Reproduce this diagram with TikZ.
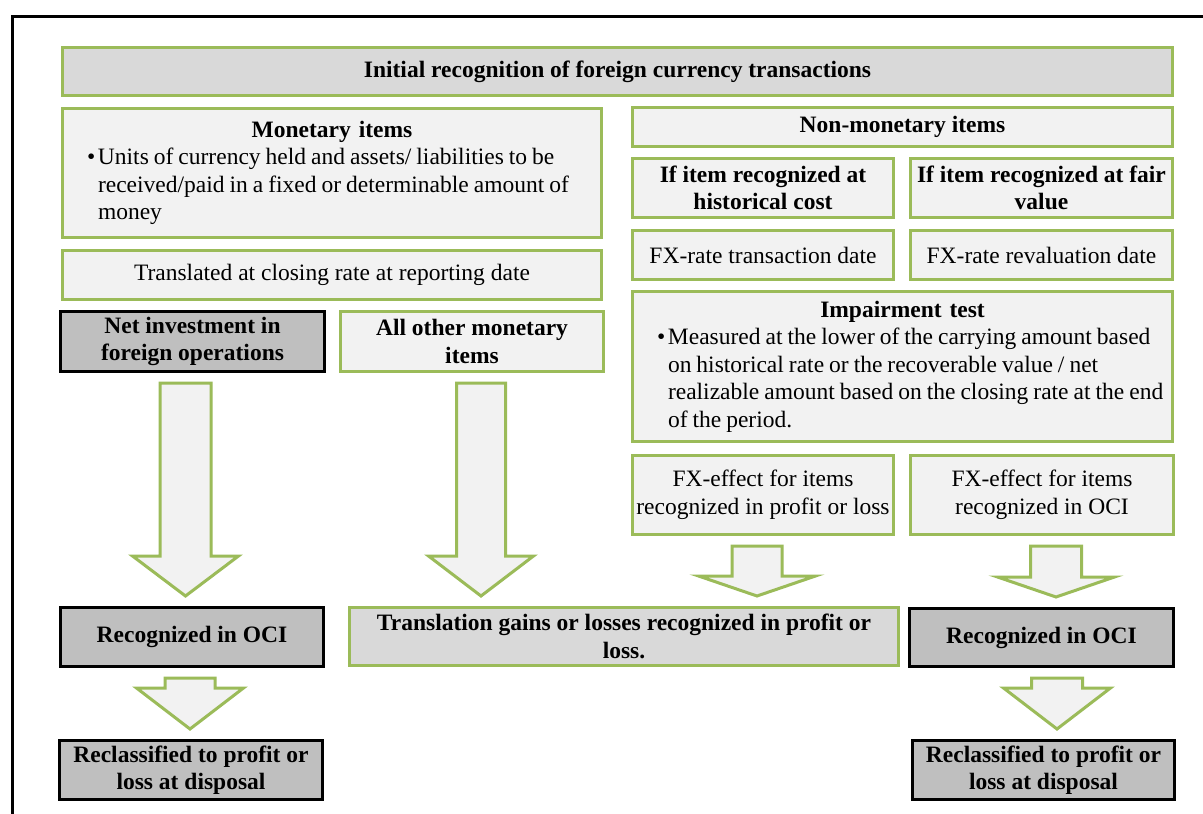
\documentclass[tikz,border=0pt]{standalone}
\usepackage{fontspec}
\setmainfont{Liberation Serif}
\usetikzlibrary{calc}

\definecolor{leafgreen}{HTML}{9BBB59}
\definecolor{paleGray}{HTML}{F2F2F2}
\definecolor{midGray}{HTML}{D9D9D9}
\definecolor{deepGray}{HTML}{BFBFBF}

% box from outer edges (x1,y1)-(x2,y2), y measured downwards; lines are broken by hand
\newcommand\bx[7]{%
  \pgfmathsetmacro\bxmw{#4-#2-3}%
  \pgfmathsetmacro\bxmh{#5-#3-3}%
  \pgfmathsetmacro\bxcx{(#2+#4)/2}%
  \pgfmathsetmacro\bxcy{(#3+#5)/2}%
  \node[minimum width=\bxmw pt, minimum height=\bxmh pt, #6]
    (#1) at (\bxcx,\bxcy) {#7};}

% hollow block arrow between two nodes: centre x, half shaft, half head, head length
\newcommand\blockarrow[6]{%
  \draw[arrowline] let \p1=(#1.south), \p2=(#2.north) in
    (#3pt-#4pt,\y1-10pt) -- (#3pt+#4pt,\y1-10pt) -- (#3pt+#4pt,\y2+10pt+#6pt)
    -- (#3pt+#5pt,\y2+10pt+#6pt) -- (#3pt,\y2+10pt)
    -- (#3pt-#5pt,\y2+10pt+#6pt) -- (#3pt-#4pt,\y2+10pt+#6pt) -- cycle;}

% bullet hanging 11pt left of the text margin
\newcommand\bulletmark{\hspace*{-11pt}\makebox[11pt][l]{\textbullet}}
% paragraph set-up for the bulleted lists (text area starts 3pt inside the box)
\newcommand\listsetup{\fontsize{23.5}{27.5}\selectfont
  \spaceskip=5pt plus 1pt\relax
  \leftskip=34pt\parindent=0pt\parskip=0pt\relax}

\begin{document}
\hyphenpenalty=10000
\exhyphenpenalty=10000
\begin{tikzpicture}[x=1pt,y=-1pt,
  base/.style={line width=3pt, inner sep=0pt, align=center,
    font=\fontsize{23.5}{27.5}\selectfont},
  greenbox/.style={base, draw=leafgreen, fill=paleGray},
  greenbold/.style={greenbox, font=\fontsize{23.5}{27.5}\selectfont\bfseries},
  titlebox/.style={base, draw=leafgreen, fill=midGray,
    font=\fontsize{23.5}{27.5}\selectfont\bfseries},
  darkbox/.style={base, draw=black, fill=deepGray,
    font=\fontsize{23.5}{27.5}\selectfont\bfseries},
  listbox/.style={greenbox, align=left},
  arrowline/.style={draw=leafgreen, fill=paleGray, line width=3pt, line join=miter}]

\useasboundingbox (0,0) rectangle (1203,814);
\clip (0,0) rectangle (1203,814);
\fill[white] (0,0) rectangle (1203,814);

% outer frame
\draw[line width=3pt] (12,16) rectangle (1240,850);

% header
\bx{init}{61}{46}{1174}{97}{titlebox}{Initial recognition of foreign currency transactions}

% monetary column
\bx{mon}{61}{107}{603}{239}{listbox, text width=536pt}{%
  {\centering\bfseries Monetary items\par}
  \listsetup
  \bulletmark\mbox{Units of currency held and assets/ liabilities to be}\par
  \mbox{received/paid in a fixed or determinable amount of}\par
  \mbox{money}\par}
\bx{transl}{61}{249}{603}{301}{greenbox}{Translated at closing rate at reporting date}
\bx{netinv}{59}{310}{326}{373}{darkbox}{Net investment in\\foreign operations}
\bx{othmon}{339}{310}{605}{373}{greenbold}{All other monetary\\items}

% non-monetary column
\bx{nonmon}{631}{106}{1174}{148}{greenbold}{Non-monetary items}
\bx{histc}{631}{157}{895}{219}{greenbold}{If item recognized at\\historical cost}
\bx{fairv}{909}{157}{1174}{219}{greenbold}{If item recognized at fair\\value}
\bx{fxtd}{631}{229}{895}{281}{greenbox}{FX-rate transaction date}
\bx{fxrd}{909}{229}{1174}{281}{greenbox}{FX-rate revaluation date}
\bx{impair}{631}{290}{1174}{443}{listbox, text width=537pt}{%
  {\centering\bfseries Impairment test\par}
  \listsetup
  \bulletmark\mbox{Measured at the lower of the carrying amount based}\par
  \mbox{on historical rate or the recoverable value / net}\par
  \mbox{realizable amount based on the closing rate at the end}\par
  \mbox{of the period.}\par}
\bx{fxpl}{631}{454}{895}{536}{greenbox}{FX-effect for items\\recognized in profit or loss}
\bx{fxoci}{909}{454}{1175}{536}{greenbox}{FX-effect for items\\recognized in OCI}

% results
\bx{ociL}{59}{606}{325}{668}{darkbox}{Recognized in OCI}
\bx{gains}{348}{606}{900}{667}{titlebox}{Translation gains or losses recognized in profit or\\loss.}
\bx{ociR}{908}{607}{1175}{668}{darkbox}{Recognized in OCI}
\bx{reclL}{58}{739}{324}{801}{darkbox}{Reclassified to profit or\\loss at disposal}
\bx{reclR}{911}{739}{1176}{801}{darkbox}{Reclassified to profit or\\loss at disposal}

% flow arrows
\blockarrow{netinv}{ociL}{185.5}{25.5}{53}{40}
\blockarrow{othmon}{gains}{481}{24.5}{52.5}{40}
\blockarrow{fxpl}{gains}{757}{25}{58.5}{20}
\blockarrow{fxoci}{ociR}{1056}{25.5}{58.5}{20}
\blockarrow{ociL}{reclL}{190}{25}{53.5}{41}
\blockarrow{ociR}{reclR}{1057}{25.5}{53.5}{41}

\end{tikzpicture}
\end{document}
